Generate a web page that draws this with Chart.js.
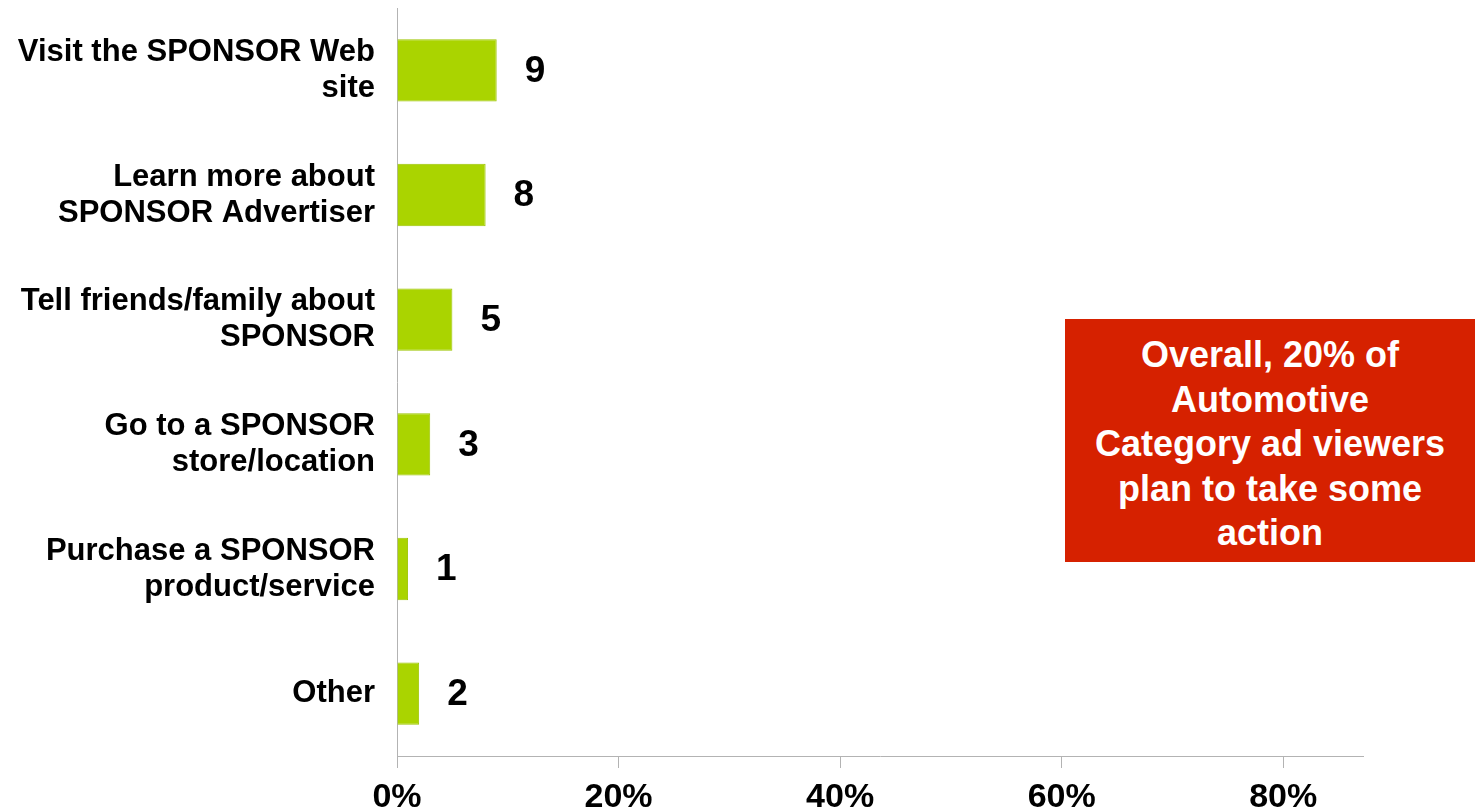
<!DOCTYPE html>
<html>
<head>
<meta charset="utf-8">
<script src="https://cdn.jsdelivr.net/npm/chart.js@4.4.1/dist/chart.umd.min.js"></script>
<style>
    html, body {
        margin: 0;
        padding: 0;
        background: #ffffff;
    }
    #wrap {
        position: relative;
        width: 1475px;
        height: 811px;
        overflow: hidden;
    }
    #barChart {
        position: absolute;
        left: 0;
        top: 0;
    }
    .callout {
        position: absolute;
        left: 1065px;
        top: 319px;
        width: 420px;
        height: 243px;
        background: #d62100;
        color: #ffffff;
        font-family: 'Liberation Sans', Arial, sans-serif;
        font-weight: bold;
        font-size: 36px;
        line-height: 44.5px;
        text-align: center;
        box-sizing: border-box;
        padding: 14px 10px 0 0;
        overflow: hidden;
        white-space: nowrap;
    }
</style>
</head>
<body>
<div id="wrap">
    <canvas id="barChart" width="1475" height="811"></canvas>
    <div class="callout">Overall, 20% of<br>Automotive<br>Category ad viewers<br>plan to take some<br>action</div>
</div>
<script>
// Категории и значения (%)
const categories = [
    ['Visit the SPONSOR Web', 'site'],
    ['Learn more about', 'SPONSOR Advertiser'],
    ['Tell friends/family about', 'SPONSOR'],
    ['Go to a SPONSOR', 'store/location'],
    ['Purchase a SPONSOR', 'product/service'],
    'Other'
];
const values = [9, 8, 5, 3, 1, 2];
const xTicks = [0, 20, 40, 60, 80];
const xMax = 87.2;

const FONT = "'Liberation Sans', Arial, sans-serif";
const AXIS_GRAY = '#b3b3b3';

// Подписи значений справа от столбцов
const valueLabels = {
    id: 'valueLabels',
    afterDatasetsDraw(chart) {
        const ctx = chart.ctx;
        const meta = chart.getDatasetMeta(0);
        ctx.save();
        ctx.font = 'bold 37px ' + FONT;
        ctx.fillStyle = '#000000';
        ctx.textAlign = 'left';
        ctx.textBaseline = 'middle';
        meta.data.forEach(function(bar, i) {
            ctx.fillText(String(values[i]), bar.x + 28, bar.y + 1);
        });
        ctx.restore();
    }
};

new Chart(document.getElementById('barChart'), {
    type: 'bar',
    data: {
        labels: categories,
        datasets: [{
            data: values,
            backgroundColor: '#aad400',
            borderColor: '#9cc400',
            borderWidth: 1,
            borderSkipped: 'left',
            barPercentage: 0.5,
            categoryPercentage: 1.0
        }]
    },
    options: {
        indexAxis: 'y',
        responsive: false,
        animation: false,
        layout: {
            padding: { top: 8, right: 112, bottom: 0, left: 0 }
        },
        plugins: {
            legend: { display: false },
            tooltip: { enabled: false }
        },
        scales: {
            x: {
                min: 0,
                max: xMax,
                afterBuildTicks: function(scale) {
                    scale.ticks = xTicks.map(function(v) { return { value: v }; });
                },
                afterFit: function(scale) {
                    scale.height = 55;
                },
                border: { display: true, color: AXIS_GRAY, width: 1 },
                grid: {
                    display: true,
                    drawOnChartArea: false,
                    drawTicks: true,
                    tickLength: 12,
                    color: AXIS_GRAY
                },
                ticks: {
                    padding: 9,
                    color: '#000000',
                    font: { family: FONT, size: 34, weight: 'bold' },
                    maxRotation: 0,
                    callback: function(value) {
                        return value + '%';
                    }
                }
            },
            y: {
                afterFit: function(scale) {
                    scale.width = 397;
                    // многострочные подписи не должны сдвигать область графика
                    scale.paddingTop = 0;
                    scale.paddingBottom = 0;
                },
                border: { display: true, color: AXIS_GRAY, width: 1 },
                grid: { display: false, drawTicks: false },
                ticks: {
                    padding: 22,
                    color: '#000000',
                    font: { family: FONT, size: 31, weight: 'bold', lineHeight: 1.16 }
                }
            }
        }
    },
    plugins: [valueLabels]
});
</script>
</body>
</html>
